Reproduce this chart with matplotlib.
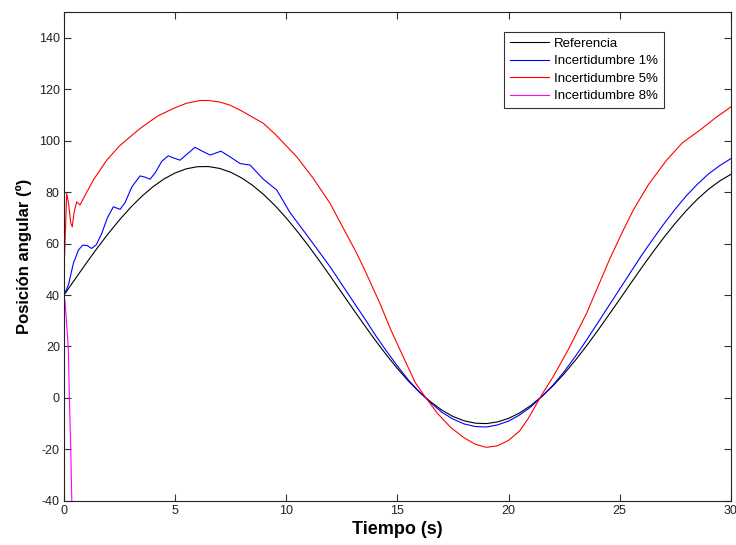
import matplotlib
matplotlib.use("Agg")
import matplotlib.pyplot as plt

plt.rcParams["font.family"] = ["Liberation Sans", "DejaVu Sans"]
plt.rcParams["axes.unicode_minus"] = False

# Referencia (muestreo cada 0.5 s)
t_ref = [0, 0.5, 1, 1.5, 2, 2.5, 3, 3.5, 4, 4.5, 5, 5.5, 6, 6.5, 7, 7.5, 8, 8.5, 9, 9.5,
         10, 10.5, 11, 11.5, 12, 12.5, 13, 13.5, 14, 14.5, 15, 15.5, 16, 16.5, 17, 17.5,
         18, 18.5, 19, 19.5, 20, 20.5, 21, 21.5, 22, 22.5, 23, 23.5, 24, 24.5, 25, 25.5,
         26, 26.5, 27, 27.5, 28, 28.5, 29, 29.5, 30]
y_ref = [40.0, 46.23, 52.37, 58.32, 63.97, 69.26, 74.08, 78.37, 82.07, 85.12, 87.45,
         89.05, 89.87, 89.93, 89.20, 87.71, 85.46, 82.52, 78.90, 74.69, 69.92, 64.67,
         59.08, 53.18, 47.06, 40.83, 34.59, 28.45, 22.46, 16.77, 11.42, 6.50, 2.16,
         -1.55, -4.75, -7.21, -8.88, -9.81, -9.97, -9.33, -7.95, -5.81, -2.95, 0.59,
         4.73, 9.41, 14.58, 20.16, 26.03, 32.15, 38.34, 44.59, 50.76, 56.75, 62.50,
         67.89, 72.85, 77.29, 81.14, 84.33, 86.90]

# Incertidumbre 1%
t_1 = [0, 0.2, 0.42, 0.65, 0.84, 1.05, 1.24, 1.45, 1.7, 1.95, 2.22, 2.52, 2.75, 3.05,
       3.42, 3.65, 3.87, 4.1, 4.4, 4.69, 4.95, 5.22, 5.5, 5.89, 6.2, 6.57, 7.06, 7.47,
       7.92, 8.37, 8.97, 9.57, 10.17, 11.07, 12, 12.5, 13, 13.5, 14, 14.5, 15, 15.5,
       16, 16.5, 17, 17.5, 18, 18.5, 19, 19.5, 20, 20.5, 21, 21.5, 22, 22.5, 23, 23.5,
       24, 24.5, 25, 25.5, 26, 26.5, 27, 27.5, 28, 28.5, 29, 29.5, 30]
y_1 = [40, 44, 52.3, 57.5, 59.4, 59.2, 58.1, 59.5, 64, 70, 74.3, 73.3, 76, 82,
       86.3, 85.8, 85, 87.5, 92, 94.1, 93.2, 92.4, 94.5, 97.4, 96, 94.4, 95.9, 93.7,
       91.1, 90.5, 85, 80.8, 72, 61.6, 50.6, 44.1, 37.6, 31.2, 24.5, 18.3, 12.4, 6.9,
       2.2, -1.9, -5.6, -8.2, -10.1, -11.1, -11.3, -10.5, -9.0, -6.6, -3.5, 0.6,
       5.0, 10.2, 16.1, 22.4, 29.0, 35.7, 42.3, 49.0, 55.6, 61.8, 67.8, 73.4, 78.6,
       83.1, 87.1, 90.3, 93.0]

# Incertidumbre 5%
t_5 = [0, 0.05, 0.12, 0.2, 0.3, 0.37, 0.45, 0.57, 0.72, 0.9, 1.32, 1.92, 2.5, 3.42,
       4.2, 4.92, 5.5, 6.12, 6.5, 7.0, 7.47, 8.0, 8.97, 9.5, 10.47, 11.2, 11.97, 12.5,
       13.09, 13.46, 14.21, 14.7, 15.26, 15.8, 16.24, 16.8, 17.4, 18.0, 18.5, 19.0,
       19.5, 20.0, 20.5, 20.89, 21.49, 22.01, 22.7, 23.51, 24.56, 25.16, 25.61, 26.3,
       27.11, 27.8, 28.61, 29.3, 30]
y_5 = [49, 62, 79.5, 76, 68, 66.5, 72, 76.2, 75, 78, 84.7, 92.4, 98, 104.7,
       109.5, 112.5, 114.5, 115.6, 115.6, 115, 113.8, 111.5, 106.7, 102.5, 93.7, 85.5,
       75.6, 67, 57.5, 51, 36.8, 26.5, 16, 6, 0.5, -6, -11.5, -15.5, -18, -19.2,
       -18.6, -16.5, -12.8, -7.9, 1.2, 8.3, 19, 32.9, 54.2, 65.2, 73, 83,
       92.4, 99, 104.1, 108.8, 113.1]

# Incertidumbre 8%
t_8 = [0, 0.05, 0.19, 0.24, 0.3, 0.35, 0.4]
y_8 = [40, 37, 20, 0, -19, -40, -60]

fig = plt.figure(figsize=(7.36, 5.45), dpi=100)
ax = fig.add_axes([0.087, 0.081, 0.906, 0.897])

ax.plot(t_ref, y_ref, color="black", linewidth=0.8, label="Referencia")
ax.plot(t_1, y_1, color="#0000ff", linewidth=0.8, label="Incertidumbre 1%")
ax.plot(t_5, y_5, color="#ff0000", linewidth=0.8, label="Incertidumbre 5%")
ax.plot(t_8, y_8, color="#ff00ff", linewidth=0.8, label="Incertidumbre 8%")

ax.set_xlim(0, 30)
ax.set_ylim(-40, 150)
ax.set_xticks(range(0, 31, 5))
ax.set_yticks(range(-40, 141, 20))
ax.tick_params(direction="in", top=True, right=True, labelsize=9, length=5, pad=3,
               colors="#333333", labelcolor="#222222")
for spine in ax.spines.values():
    spine.set_linewidth(0.8)
    spine.set_edgecolor("#222222")

ax.set_xlabel("Tiempo (s)", fontsize=13, fontweight="bold", labelpad=3)
ax.set_ylabel("Posición angular (º)", fontsize=12, fontweight="bold", labelpad=5)

leg = ax.legend(loc="upper right", bbox_to_anchor=(0.8996, 0.96), fontsize=9.5,
                frameon=True, fancybox=False, handlelength=2.95, handletextpad=0.35,
                labelspacing=0.4, borderpad=0.45, borderaxespad=0)
leg.get_frame().set_edgecolor("black")
leg.get_frame().set_linewidth(0.8)

fig.savefig("out.png", dpi=100)
